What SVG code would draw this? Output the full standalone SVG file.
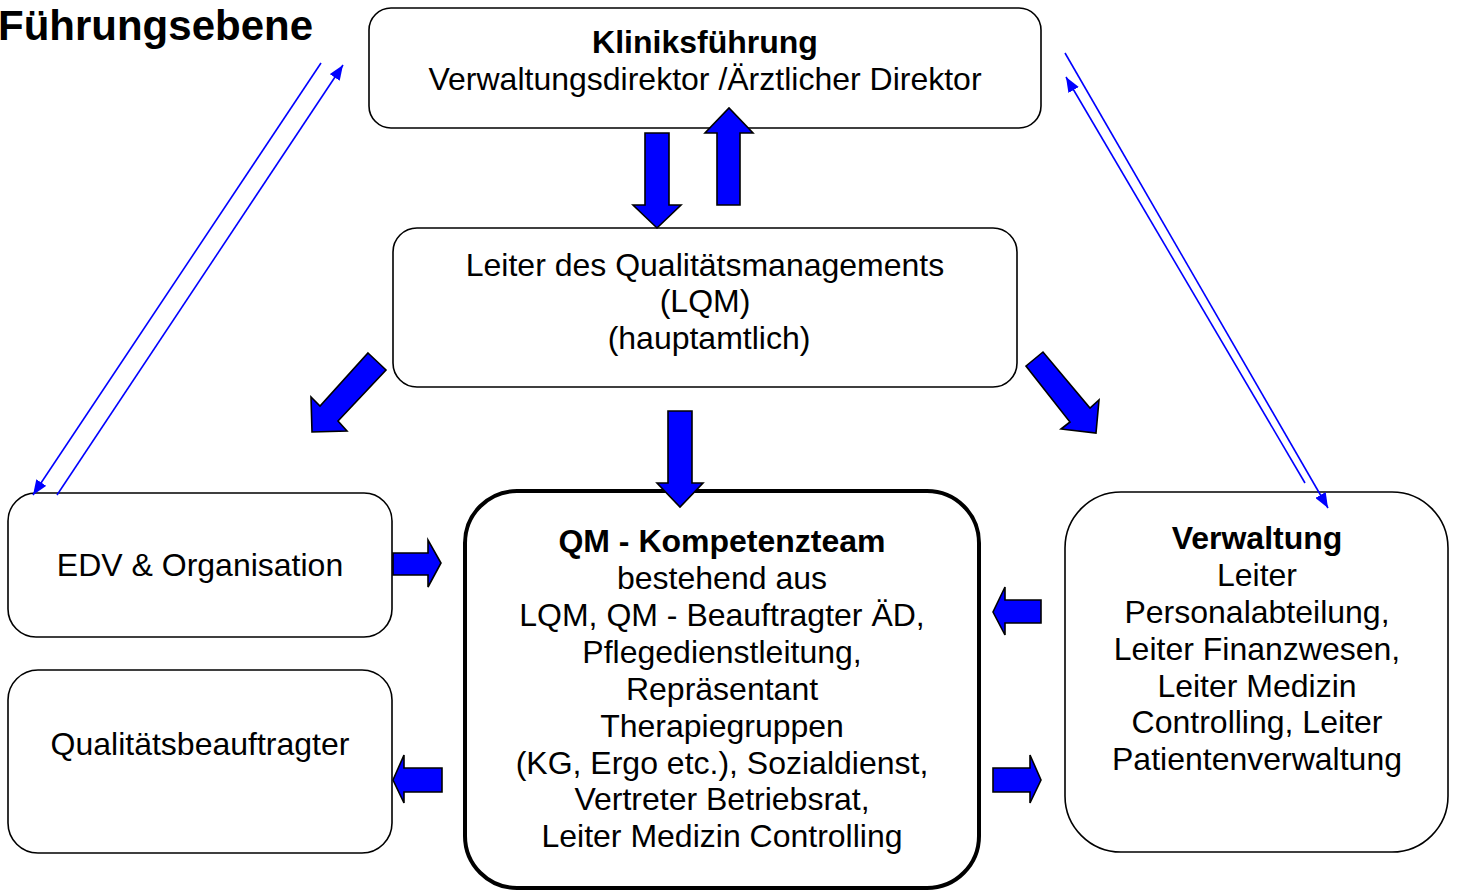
<svg xmlns="http://www.w3.org/2000/svg" width="1458" height="892" viewBox="0 0 1458 892">
<defs>
<style>
.box{fill:#fff;stroke:#000;stroke-width:1.6}
.thick{fill:#fff;stroke:#000;stroke-width:4}
.t{font-family:"Liberation Sans",Arial,sans-serif;font-size:32px;fill:#000;text-anchor:middle}
.b{font-weight:bold}
.blk{fill:#0000ff;stroke:#000;stroke-width:1.6;stroke-linejoin:miter}
.ln{stroke:#0000ff;stroke-width:1.6;fill:none}
</style>
<marker id="ah" viewBox="0 0 15 12" refX="15" refY="6" markerWidth="15" markerHeight="12" markerUnits="userSpaceOnUse" orient="auto">
<path d="M0,0 L15,6 L0,12 Z" fill="#0000ff"/>
</marker>
</defs>
<rect width="1458" height="892" fill="#fff"/>
<text x="-2" y="40" class="t b" style="font-size:42px;text-anchor:start">Führungsebene</text>
<g id="kliniksfuehrung">
<rect class="box" x="369" y="8" width="672" height="120" rx="22"/>
<text class="t b" x="705" y="53">Kliniksführung</text>
<text class="t" x="705" y="90">Verwaltungsdirektor /Ärztlicher Direktor</text>
</g>
<g id="lqm">
<rect class="box" x="393" y="228" width="624" height="159" rx="24"/>
<text class="t" x="705" y="276">Leiter des Qualitätsmanagements</text>
<text class="t" x="705" y="312">(LQM)</text>
<text class="t" x="709" y="349">(hauptamtlich)</text>
</g>
<g id="edv">
<rect class="box" x="8" y="493" width="384" height="144" rx="28"/>
<text class="t" x="200" y="576">EDV &amp; Organisation</text>
</g>
<g id="qb">
<rect class="box" x="8" y="670" width="384" height="183" rx="30"/>
<text class="t" x="200" y="755">Qualitätsbeauftragter</text>
</g>
<g id="qmteam">
<rect class="thick" x="465" y="491" width="514" height="397" rx="52"/>
<text class="t b" x="722" y="552">QM - Kompetenzteam</text>
<text class="t" x="722" y="589">bestehend aus</text>
<text class="t" x="722" y="626">LQM, QM - Beauftragter ÄD,</text>
<text class="t" x="722" y="663">Pflegedienstleitung,</text>
<text class="t" x="722" y="700">Repräsentant</text>
<text class="t" x="722" y="737">Therapiegruppen</text>
<text class="t" x="722" y="774">(KG, Ergo etc.), Sozialdienst,</text>
<text class="t" x="722" y="810">Vertreter Betriebsrat,</text>
<text class="t" x="722" y="847">Leiter Medizin Controlling</text>
</g>
<g id="verwaltung">
<rect class="box" x="1065" y="492" width="383" height="360" rx="56"/>
<text class="t b" x="1257" y="549">Verwaltung</text>
<text class="t" x="1257" y="586">Leiter</text>
<text class="t" x="1257" y="623">Personalabteilung,</text>
<text class="t" x="1257" y="660">Leiter Finanzwesen,</text>
<text class="t" x="1257" y="697">Leiter Medizin</text>
<text class="t" x="1257" y="733">Controlling, Leiter</text>
<text class="t" x="1257" y="770">Patientenverwaltung</text>
</g>
<g id="connectors">
<polygon class="blk" points="645,133 669,133 669,205 681,205 657,228 633,205 645,205"/>
<polygon class="blk" points="717,205 740,205 740,133 753,133 729,108 705,133 717,133"/>
<polygon class="blk" points="668,411 692,411 692,483 703,483 680,507 657,483 668,483"/>
<polygon class="blk" points="368,353 386,370 338,421 347,431 312,432 311,397 320,406"/>
<polygon class="blk" points="1043,352 1026,366 1070,422 1061,429 1096,433 1099,400 1090,408"/>
<polygon class="blk" points="393,553 428,553 428,540 441,563 428,587 428,575 393,575"/>
<polygon class="blk" points="1041,600 1005,600 1005,587 993,612 1005,635 1005,623 1041,623"/>
<polygon class="blk" points="442,768 404,768 404,755 393,780 404,803 404,792 442,792"/>
<polygon class="blk" points="993,768 1030,768 1030,755 1041,780 1030,803 1030,792 993,792"/>
<line class="ln" x1="321" y1="63" x2="33" y2="495" marker-end="url(#ah)"/>
<line class="ln" x1="57" y1="495" x2="343" y2="65" marker-end="url(#ah)"/>
<line class="ln" x1="1065" y1="53" x2="1328" y2="508" marker-end="url(#ah)"/>
<line class="ln" x1="1305" y1="483" x2="1066" y2="77" marker-end="url(#ah)"/>
</g>
</svg>
